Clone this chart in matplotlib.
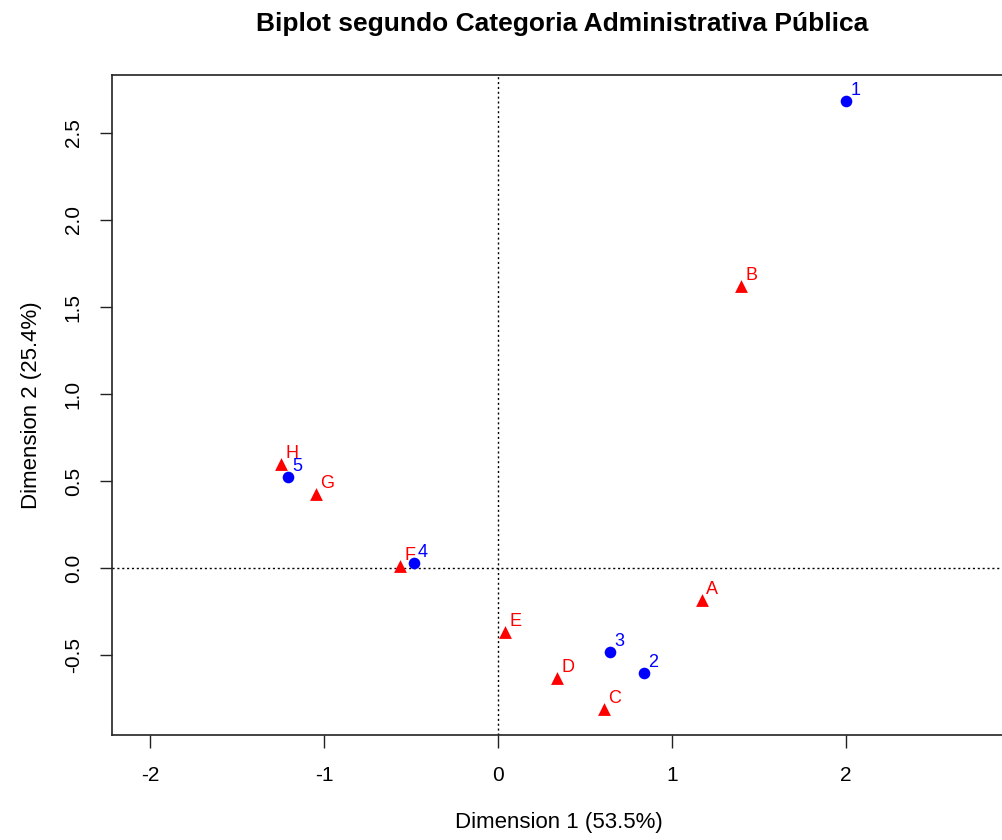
import matplotlib
matplotlib.use("Agg")
import matplotlib.pyplot as plt

plt.rcParams['font.family'] = ['Liberation Sans', 'DejaVu Sans']

# Row points (blue circles)
row_labels = ["1", "2", "3", "4", "5"]
row_x = [2.00, 0.839, 0.644, -0.483, -1.207]
row_y = [2.684, -0.603, -0.483, 0.029, 0.523]

# Column points (red triangles)
col_labels = ["A", "B", "C", "D", "E", "F", "G", "H"]
col_x = [1.172, 1.397, 0.609, 0.339, 0.040, -0.563, -1.046, -1.247]
col_y = [-0.184, 1.621, -0.810, -0.632, -0.368, 0.011, 0.425, 0.598]

x_ticks = [-2, -1, 0, 1, 2]
y_ticks = [-0.5, 0.0, 0.5, 1.0, 1.5, 2.0, 2.5]

W, H = 1002, 840
fig = plt.figure(figsize=(W / 100, H / 100), dpi=100)
left, right, top, bottom = 112, 1006, 75, 735
ax = fig.add_axes([left / W, 1 - bottom / H, (right - left) / W, (bottom - top) / H])

x0 = (left - 498) / 174
x1 = (right - 498) / 174
y1 = (568 - top) / 174
y0 = (568 - bottom) / 174
ax.set_xlim(x0, x1)
ax.set_ylim(y0, y1)

ax.axhline(0, color='black', linestyle=(0, (1.5, 2)), linewidth=1, zorder=1)
ax.axvline(0, color='black', linestyle=(0, (1.5, 2)), linewidth=1, zorder=1)

ax.scatter(row_x, row_y, marker='o', s=70, color='#0000FF', zorder=3, linewidths=0)
ax.scatter(col_x, col_y, marker='^', s=85, color='#FF0000', zorder=3, linewidths=0)

for lab, x, y in zip(row_labels, row_x, row_y):
    ax.annotate(lab, (x, y), xytext=(3, 4.5), textcoords='offset points',
                color='#0000FF', fontsize=13, ha='left', va='baseline')
for lab, x, y in zip(col_labels, col_x, col_y):
    ax.annotate(lab, (x, y), xytext=(3, 4.5), textcoords='offset points',
                color='#FF0000', fontsize=13, ha='left', va='baseline')

ax.set_xticks(x_ticks)
ax.set_xticklabels([str(t) for t in x_ticks])
ax.set_yticks(y_ticks)
ax.set_yticklabels([f"{t:.1f}" for t in y_ticks], rotation=90, va='center')

ax.tick_params(axis='both', direction='out', length=9, width=1, labelsize=15,
               color='#222222')
ax.tick_params(axis='x', pad=13)
ax.tick_params(axis='y', pad=12)
for sp in ax.spines.values():
    sp.set_linewidth(1.2)
    sp.set_color('#222222')

ax.set_xlabel("Dimension 1 (53.5%)", fontsize=16, labelpad=20)
ax.set_ylabel("Dimension 2 (25.4%)", fontsize=16, labelpad=16)

fig.text(562 / W, 1 - 24 / H, "Biplot segundo Categoria Administrativa Pública",
         ha='center', va='center', fontsize=19, fontweight='bold')

fig.savefig("out.png", dpi=100)
